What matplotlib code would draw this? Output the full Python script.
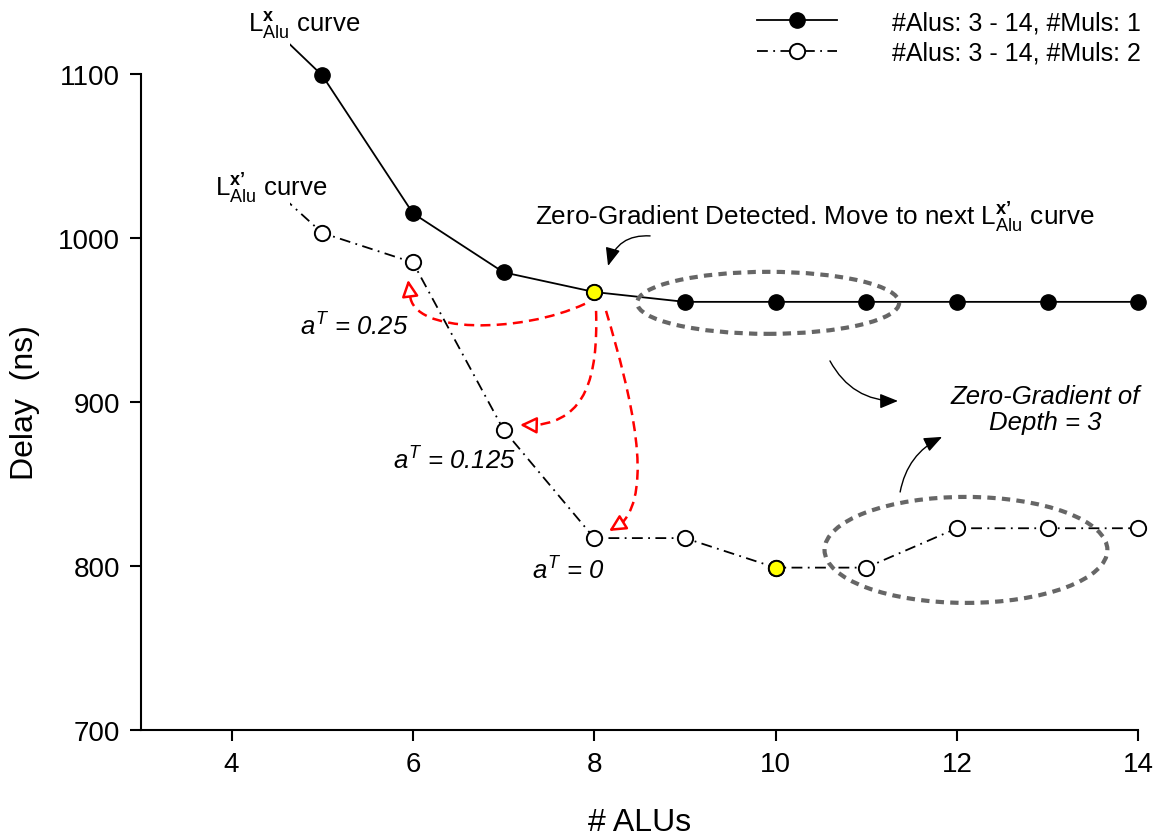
import numpy as np
import matplotlib
matplotlib.use("Agg")
import matplotlib.pyplot as plt
from matplotlib.patches import Ellipse, PathPatch, Rectangle
from matplotlib.path import Path

plt.rcParams['font.family'] = ['Liberation Sans', 'DejaVu Sans']
plt.rcParams['mathtext.fontset'] = 'custom'
plt.rcParams['mathtext.rm'] = 'Liberation Sans'
plt.rcParams['mathtext.it'] = 'Liberation Sans:italic'
plt.rcParams['mathtext.bf'] = 'Liberation Sans:bold'

# data (x = 4 values only feed the clipped stub at the left)
alus = [4, 5, 6, 7, 8, 9, 10, 11, 12, 13, 14]
delay_mul1 = [1152, 1099, 1015, 979, 967, 961, 961, 961, 961, 961, 961]
delay_mul2 = [1053, 1003, 985, 883, 817, 817, 799, 799, 823, 823, 823]
label_mul1 = '#Alus: 3 - 14, #Muls: 1'
label_mul2 = '#Alus: 3 - 14, #Muls: 2'
hit_mul1 = 8    # zero gradient detected here
hit_mul2 = 10

xticks = [4, 6, 8, 10, 12, 14]
yticks = [700, 800, 900, 1000, 1100]

fig = plt.figure(figsize=(11.65, 8.37), dpi=100)
ax = fig.add_axes([0.121, 0.1266, 0.856, 0.784])

dashdot = (0, (6, 3, 1, 3))
l1, = ax.plot(alus, delay_mul1, '-', color='black', lw=1.3, marker='o',
              ms=11, mfc='black', mec='black', label=label_mul1)
l2, = ax.plot(alus, delay_mul2, color='black', lw=1.3, ls=dashdot, marker='o',
              ms=11, mfc='white', mec='black', mew=1.4, label=label_mul2)

# lines start a bit right of x = 4.6 and run above the top of the axes
clip = Rectangle((4.64, 690), 10, 520, transform=ax.transData)
for ln in (l1, l2):
    ln.set_clip_box(None)
    ln.set_clip_path(clip)

i1 = alus.index(hit_mul1)
i2 = alus.index(hit_mul2)
ax.plot([alus[i1]], [delay_mul1[i1]], 'o', ms=11, mfc='yellow', mec='black',
        mew=1.4, zorder=5, clip_on=False)
ax.plot([alus[i2]], [delay_mul2[i2]], 'o', ms=11, mfc='yellow', mec='black',
        mew=1.4, zorder=5, clip_on=False)

ax.set_xlim(3, 14)
ax.set_ylim(700, 1100)
ax.set_xticks(xticks)
ax.set_yticks(yticks)
ax.spines['top'].set_visible(False)
ax.spines['right'].set_visible(False)
for s in ('left', 'bottom'):
    ax.spines[s].set_linewidth(1.5)
ax.tick_params(direction='out', length=8, width=1.5, labelsize=20, pad=7)

ax.set_xlabel('# ALUs', fontsize=23, labelpad=22)
ax.set_ylabel('Delay  (ns)', fontsize=23, labelpad=13)

leg = ax.legend(handles=[l1, l2], loc='upper left',
                bbox_to_anchor=(757 / 1165, 1 - 11 / 837),
                bbox_transform=fig.transFigure, frameon=False, fontsize=18,
                handlelength=3.2, handletextpad=2.2, labelspacing=0.28,
                borderpad=0, borderaxespad=0)

# text annotations
fs = 18.5
ax.text(4.18, 1126.2, r'L$^{\mathbf{x}}_{\mathrm{Alu}}$ curve', fontsize=fs,
        ha='left', va='baseline')
ax.text(3.816, 1025.6, r'L$^{\mathbf{x’}}_{\mathrm{Alu}}$ curve', fontsize=fs,
        ha='left', va='baseline')
ax.text(7.347, 1007.9,
        r'Zero-Gradient Detected. Move to next L$^{\mathbf{x’}}_{\mathrm{Alu}}$ curve',
        fontsize=18.8, ha='left', va='baseline')
ax.text(12.974, 895.7, 'Zero-Gradient of\nDepth = 3', fontsize=fs,
        style='italic', ha='center', va='center', linespacing=1.1)
ax.text(4.754, 940.9, r'$a^{T}$ = 0.25', fontsize=fs, style='italic',
        ha='left', va='baseline')
ax.text(5.78, 859.1, r'$a^{T}$ = 0.125', fontsize=fs, style='italic',
        ha='left', va='baseline')
ax.text(7.314, 792.1, r'$a^{T}$ = 0', fontsize=fs, style='italic',
        ha='left', va='baseline')

# grey dashed ellipses around the flat parts
ell_style = dict(fill=False, ec='#666666', lw=3, ls=(0, (2, 1.5)),
                 clip_on=False, zorder=4)
ax.add_patch(Ellipse((9.918, 960.4), 2.89, 37.8, **ell_style))
ax.add_patch(Ellipse((12.10, 809.8), 3.12, 64.6, **ell_style))

# black curved arrows
black_arrow = dict(arrowstyle='-|>,head_length=1.1,head_width=0.45',
                   color='black', lw=1.0, shrinkA=0, shrinkB=0)
ax.annotate('', xy=(8.152, 982.9), xytext=(8.616, 1001.2),
            arrowprops=dict(connectionstyle='arc3,rad=0.4', **black_arrow))
ax.annotate('', xy=(11.35, 900.6), xytext=(10.60, 925.0),
            arrowprops=dict(connectionstyle='arc3,rad=0.3', **black_arrow))
ax.annotate('', xy=(11.837, 878.7), xytext=(11.374, 845.1),
            arrowprops=dict(connectionstyle='arc3,rad=-0.25', **black_arrow))

# red dashed search arrows from the detected point
red_curves = [
    ([(7.898, 959.8), (7.181, 941.5), (5.990, 941.5), (5.968, 965.2)],
     (5.946, 974.4), (1.4, -10.8)),
    ([(8.020, 955.5), (8.042, 914.0), (7.898, 889.6), (7.369, 886.0)],
     (7.181, 886.0), (11.5, -0.3)),
    ([(8.130, 955.5), (8.420, 901.8), (8.650, 846.95), (8.307, 826.2)],
     (8.163, 821.3), (9.4, 5.8)),
]
codes = [Path.MOVETO, Path.CURVE4, Path.CURVE4, Path.CURVE4]
for pts, tip, back in red_curves:
    ax.add_patch(PathPatch(Path(pts, codes), fill=False, ec='red', lw=1.8,
                           ls=(0, (4, 2.5)), transform=ax.transData,
                           clip_on=False, zorder=3))
    ax.annotate('', xy=tip, xytext=back, textcoords='offset points',
                arrowprops=dict(arrowstyle='-|>,head_length=1.0,head_width=0.5',
                                fc='white', ec='red', lw=1.8,
                                shrinkA=0, shrinkB=0), zorder=6)

fig.savefig('out.png', dpi=100)
